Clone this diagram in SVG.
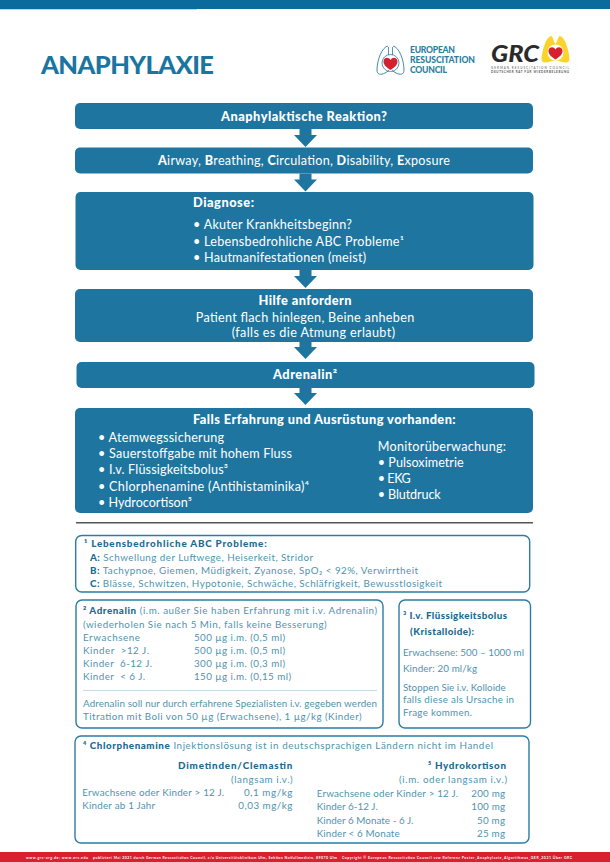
<svg xmlns="http://www.w3.org/2000/svg" xmlns:xlink="http://www.w3.org/1999/xlink" width="610" height="862" viewBox="0 0 610 862">
<style>
text{font-family:Lato,"Noto Sans",sans-serif}
.box{fill:#1e76a0}
.note{fill:#fff;stroke:#2a7da3;stroke-width:1.4}
.w{fill:#fff;font-size:12.600px}
.wb{fill:#fff;font-size:12.800px;font-weight:900}
.n{fill:#4f93b0;font-size:9.800px}
.nb{fill:#1a6a92;font-size:9.800px;font-weight:900}
.sm{fill:#555;font-size:3px;font-weight:700}
.f{fill:#fff;font-size:3.500px;font-weight:700}
.e{font-weight:900;font-size:8.600px;fill:#2a7f9f}
</style>
<defs>
<path id="arrow" d="M-6 0H6V6H11.500L0 18L-11.500 6H-6Z" fill="#1e76a0"/>
<path id="heart" d="M0 7C-5.500 3.500 -7 1 -7 -1.500C-7 -5.500 -2 -6.500 0 -3C2 -6.500 7 -5.500 7 -1.500C7 1 5.500 3.500 0 7Z"/>
</defs>
<rect width="610" height="862" fill="#fff"/>
<rect width="610" height="9" fill="#0a6b9c"/>
<rect y="9" width="197" height="1" fill="#a9def0"/>
<rect y="852" width="610" height="10" fill="#d9202e"/>
<text x="41" y="74" font-size="25.500" font-weight="900" fill="#1a75a0" textLength="173">ANAPHYLAXIE</text>

<g id="logo-erc">
<path d="M388 46C382 47 377 60 377 70C377 75 381 75 385 73L389 70.500M393 46C399 47 404 60 404 70C404 75 400 75 396 73L392 70.500" fill="none" stroke="#2a7f9f" stroke-width="0.900"/>
<path d="M388.500 47V55M392.500 47V55" fill="none" stroke="#2a7f9f" stroke-width="0.800"/>
<circle cx="390.500" cy="63" r="8.500" fill="none" stroke="#2a7f9f" stroke-width="0.800"/>
<use xlink:href="#heart" href="#heart" x="390.500" y="63" fill="#d6202f"/>
<text x="410" y="62.700" class="e" textLength="65">RESUSCITATION</text>
<text x="410" y="52.700" class="e" textLength="45">EUROPEAN</text>
<text x="410" y="73" class="e" textLength="37">COUNCIL</text>
</g>
<g id="logo-grc">
<path d="M551 36C547 37 544.500 44 543 50C542 54 541 59 542 61C544 64 549 62 555.500 60C562 62 567 64 569 61C570 59 569 54 568 50C566.500 44 564 37 560 36C558 36 557.500 42 555.500 44C553.500 42 553 36 551 36Z" fill="#fbd32b"/>
<circle cx="555.500" cy="52.500" r="8" fill="#fff"/>
<use xlink:href="#heart" href="#heart" x="555.500" y="52.500" fill="#d6202f"/>
<text x="491" y="61.500" style="font-size:23px;font-weight:900;font-style:italic;fill:#2b2b2b" textLength="48" lengthAdjust="spacingAndGlyphs">GRC</text>
<text x="491" y="69" class="sm" textLength="78" style="font-weight:400">GERMAN RESUSCITATION COUNCIL</text>
<text x="491" y="73" class="sm" textLength="78">DEUTSCHER RAT FÜR WIEDERBELEBUNG</text>
</g>

<g id="connectors">
<use xlink:href="#arrow" href="#arrow" x="305.500" y="129"/>
<use xlink:href="#arrow" href="#arrow" x="305.500" y="173.500"/>
<use xlink:href="#arrow" href="#arrow" x="305.500" y="270"/>
<use xlink:href="#arrow" href="#arrow" x="305.500" y="341"/>
<use xlink:href="#arrow" href="#arrow" x="305.500" y="387"/>
</g>

<g id="node-reaktion">
<rect class="box" x="75" y="103" width="458" height="26" rx="5"/>
<text class="wb" x="221" y="120.500" textLength="166">Anaphylaktische Reaktion?</text>
</g>
<g id="node-abcde">
<rect class="box" x="75" y="147.500" width="458" height="26" rx="5"/>
<text class="w" x="158" y="164.500" textLength="292"><tspan font-weight="900">A</tspan>irway, <tspan font-weight="900">B</tspan>reathing, <tspan font-weight="900">C</tspan>irculation, <tspan font-weight="900">D</tspan>isability, <tspan font-weight="900">E</tspan>xposure</text>
</g>
<g id="node-diagnose">
<rect class="box" x="75.500" y="192" width="458" height="78" rx="5"/>
<text class="wb" x="193" y="207" textLength="61">Diagnose:</text>
<text class="w" x="193" y="229" textLength="159">• Akuter Krankheitsbeginn?</text>
<text class="w" x="193" y="245.700" textLength="211">• Lebensbedrohliche ABC Probleme¹</text>
<text class="w" x="193" y="262" textLength="173">• Hautmanifestationen (meist)</text>
</g>
<g id="node-hilfe">
<rect class="box" x="75" y="289" width="458" height="53" rx="5"/>
<text class="wb" x="258.500" y="305" textLength="93">Hilfe anfordern</text>
<text class="w" x="195.700" y="322" textLength="218.500">Patient flach hinlegen, Beine anheben</text>
<text class="w" x="231.700" y="337" textLength="163.300">(falls es die Atmung erlaubt)</text>
</g>
<g id="node-adrenalin">
<rect class="box" x="76.500" y="362" width="458" height="26" rx="5"/>
<text class="wb" x="273" y="378.700" textLength="64">Adrenalin²</text>
</g>
<g id="node-falls">
<rect class="box" x="75" y="408" width="458" height="105" rx="5"/>
<text class="wb" x="193" y="424" textLength="262.700">Falls Erfahrung und Ausrüstung vorhanden:</text>
<text class="w" x="98" y="442.300" textLength="126">• Atemwegssicherung</text>
<text class="w" x="98" y="458.300" textLength="194">• Sauerstoffgabe mit hohem Fluss</text>
<text class="w" x="98" y="474.300" textLength="130">• I.v. Flüssigkeitsbolus³</text>
<text class="w" x="98" y="490.700" textLength="211">• Chlorphenamine (Antihistaminika)⁴</text>
<text class="w" x="98" y="506.700" textLength="94">• Hydrocortison⁵</text>
<text class="w" x="377.700" y="450.700" textLength="128.300">Monitorüberwachung:</text>
<text class="w" x="377.700" y="466.700" textLength="86">• Pulsoximetrie</text>
<text class="w" x="377.700" y="483" textLength="33">• EKG</text>
<text class="w" x="377.700" y="499" textLength="63">• Blutdruck</text>
</g>
<rect id="divider" x="76" y="522" width="457" height="1.500" fill="#555"/>
<g id="note-abc">
<rect class="note" x="75.700" y="535.500" width="454" height="56.500" rx="6"/>
<text class="nb" x="84" y="547.300" textLength="182.700">¹ Lebensbedrohliche ABC Probleme:</text>
<text class="n" x="90" y="560.700" textLength="223"><tspan class="nb">A:</tspan> Schwellung der Luftwege, Heiserkeit, Stridor</text>
<text class="n" x="90" y="573.700" textLength="328"><tspan class="nb">B:</tspan> Tachypnoe, Giemen, Müdigkeit, Zyanose, SpO₂ &lt; 92%, Verwirrtheit</text>
<text class="n" x="90" y="586.700" textLength="352"><tspan class="nb">C:</tspan> Blässe, Schwitzen, Hypotonie, Schwäche, Schläfrigkeit, Bewusstlosigkeit</text>
</g>
<g id="note-adrenalin">
<rect class="note" x="76" y="600" width="307" height="128" rx="6"/>
<text class="n" x="83" y="614" textLength="294"><tspan class="nb">² Adrenalin</tspan> (i.m. außer Sie haben Erfahrung mit i.v. Adrenalin)</text>
<text class="n" x="83" y="627.700" textLength="243.700">(wiederholen Sie nach 5 Min, falls keine Besserung)</text>
<text class="n" x="83" y="640.700" textLength="57">Erwachsene</text><text class="n" x="194" y="640.700" textLength="91">500 µg i.m. (0,5 ml)</text>
<text class="n" x="83" y="654" textLength="66">Kinder &#160;&gt;12 J.</text><text class="n" x="194" y="654" textLength="91">500 µg i.m. (0,5 ml)</text>
<text class="n" x="83" y="667" textLength="69">Kinder &#160;6-12 J.</text><text class="n" x="194" y="667" textLength="91">300 µg i.m. (0,3 ml)</text>
<text class="n" x="83" y="680.300" textLength="62">Kinder &#160;&lt; 6 J.</text><text class="n" x="194" y="680.300" textLength="97">150 µg i.m. (0,15 ml)</text>
<rect x="83" y="690" width="294" height="0.800" fill="#b5d2de"/>
<text class="n" x="83" y="706.700" textLength="294">Adrenalin soll nur durch erfahrene Spezialisten i.v. gegeben werden</text>
<text class="n" x="83" y="719.700" textLength="278.700">Titration mit Boli von 50 µg (Erwachsene), 1 µg/kg (Kinder)</text>
</g>
<g id="note-bolus">
<rect class="note" x="399" y="600" width="131.500" height="128" rx="6"/>
<text class="nb" x="403" y="619" textLength="104">³ I.v. Flüssigkeitsbolus</text>
<text class="nb" x="410" y="635" textLength="64">(Kristalloide):</text>
<text class="n" x="403" y="656" textLength="121">Erwachsene: 500 – 1000 ml</text>
<text class="n" x="403" y="671.700" textLength="74">Kinder: 20 ml/kg</text>
<text class="n" x="403" y="690.700" textLength="102.700">Stoppen Sie i.v. Kolloide</text>
<text class="n" x="403" y="703" textLength="111">falls diese als Ursache in</text>
<text class="n" x="403" y="716.300" textLength="69">Frage kommen.</text>
</g>
<g id="note-chlor">
<rect class="note" x="75" y="736" width="454" height="107" rx="6"/>
<text class="n" x="83" y="749" textLength="410"><tspan class="nb">⁴ Chlorphenamine</tspan> Injektionslösung ist in deutschsprachigen Ländern nicht im Handel</text>
<text class="nb" x="178" y="769.300" textLength="114.300">Dimetinden/Clemastin</text>
<text class="n" x="231" y="782.700" textLength="61.700">(langsam i.v.)</text>
<text class="n" x="82.300" y="795.700" textLength="141.700">Erwachsene oder Kinder &gt; 12 J.</text>
<text class="n" x="244" y="795.700" textLength="48.300">0,1 mg/kg</text>
<text class="n" x="82.300" y="809" textLength="72.700">Kinder ab 1 Jahr</text>
<text class="n" x="238.300" y="809" textLength="54">0,03 mg/kg</text>
<text class="nb" x="428" y="769.300" textLength="78">⁵ Hydrokortison</text>
<text class="n" x="399" y="782.700" textLength="108">(i.m. oder langsam i.v.)</text>
<text class="n" x="316.700" y="797.300" textLength="141.300">Erwachsene oder Kinder &gt; 12 J.</text>
<text class="n" x="471.300" y="797.300" textLength="33.700">200 mg</text>
<text class="n" x="316.700" y="810.300" textLength="61">Kinder 6-12 J.</text>
<text class="n" x="471.300" y="810.300" textLength="33.700">100 mg</text>
<text class="n" x="316.700" y="823.700" textLength="96.700">Kinder 6 Monate - 6 J.</text>
<text class="n" x="477" y="823.700" textLength="28">50 mg</text>
<text class="n" x="316.700" y="836.700" textLength="83">Kinder &lt; 6 Monate</text>
<text class="n" x="477" y="836.700" textLength="28">25 mg</text>
</g>
<g id="footer">
<text class="f" x="26" y="858.500" textLength="62">www.grc-org.de; www.erc.edu</text>
<text class="f" x="93" y="858.500" textLength="244">publiziert Mai 2021 durch German Resuscitation Council, c/o Universitätsklinikum Ulm, Sektion Notfallmedizin, 89070 Ulm</text>
<text class="f" x="342" y="858.500" textLength="230">Copyright © European Resuscitation Council vzw Referenz Poster_Anaphylaxie_Algorithmus_GER_2021 Über GRC</text>
</g>
</svg>
